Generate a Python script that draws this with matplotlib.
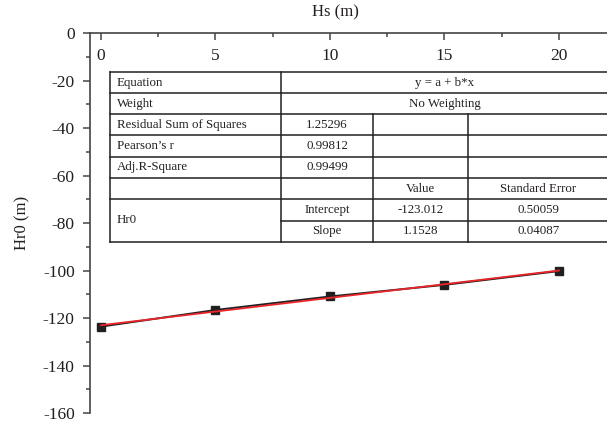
import matplotlib
matplotlib.use('Agg')
import matplotlib.pyplot as plt
from matplotlib.lines import Line2D
from matplotlib.ticker import MultipleLocator
import numpy as np

plt.rcParams['font.family'] = ['Liberation Serif', 'DejaVu Serif']
plt.rcParams['axes.unicode_minus'] = False

# Data
hs = [0, 5, 10, 15, 20]
hr0 = [-123.6, -116.6, -110.9, -106.0, -100.2]

# Linear fit results (shown in the table)
intercept = -123.012
slope = 1.1528
intercept_err = 0.50059
slope_err = 0.04087
rss = 1.25296
pearson_r = 0.99812
adj_r2 = 0.99499

W, H = 607, 424
fig = plt.figure(figsize=(W / 100, H / 100), dpi=100)

def fx(px):
    return px / W

def fy(py):
    return 1 - py / H

ax = fig.add_axes([fx(90), fy(413), fx(607) - fx(90), fy(33.3) - fy(413)])
ax.set_xlim(-0.48, 22.1)
ax.set_ylim(-160, 0)

# data and fit line
xf = np.array([0, 20])
ax.plot(hs, hr0, color='#231f20', lw=1.4, marker='s', ms=6, mfc='#231f20', mec='#231f20', zorder=3)
ax.plot(xf, intercept + slope * xf, color='#e8262a', lw=1.3, zorder=4)

for s in ['right', 'bottom']:
    ax.spines[s].set_visible(False)
for s in ['left', 'top']:
    ax.spines[s].set_color('#444444')
    ax.spines[s].set_linewidth(1.2)

ax.xaxis.tick_top()
ax.xaxis.set_major_locator(MultipleLocator(5))
ax.xaxis.set_minor_locator(MultipleLocator(2.5))
ax.yaxis.set_major_locator(MultipleLocator(20))
ax.yaxis.set_minor_locator(MultipleLocator(10))
ax.tick_params(axis='x', which='major', direction='in', length=5, width=1.1,
               pad=-22, labelsize=12.5, colors='#444444', labelcolor='#231f20')
ax.tick_params(axis='x', which='minor', direction='in', length=3, width=1.1, colors='#444444')
ax.tick_params(axis='y', which='major', direction='out', length=5, width=1.1,
               pad=6, labelsize=12.5, colors='#444444', labelcolor='#231f20')
ax.tick_params(axis='y', which='minor', direction='out', length=3, width=1.1, colors='#444444')

fig.text(fx(335), fy(12), 'Hs (m)', ha='center', va='center', fontsize=12, color='#231f20')
fig.text(fx(22), fy(223), 'Hr0 (m)', ha='center', va='center', rotation=90, fontsize=12, color='#231f20')

# Table
cols = [110, 280.7, 373.3, 467.7, 609]
rows = [72, 93.3, 114.3, 135.3, 156.7, 177.7, 199.3, 220.7, 241.7]
lc = '#231f20'
lw = 1.1

def hline(y, x0, x1):
    fig.add_artist(Line2D([fx(x0), fx(x1)], [fy(y), fy(y)], color=lc, lw=lw, transform=fig.transFigure))

def vline(x, y0, y1):
    fig.add_artist(Line2D([fx(x), fx(x)], [fy(y0), fy(y1)], color=lc, lw=lw, transform=fig.transFigure))

for i, y in enumerate(rows):
    if i == 7:
        hline(y, cols[1], cols[4])
    else:
        hline(y, cols[0], cols[4])
vline(cols[0], rows[0], rows[-1])
vline(cols[1], rows[0], rows[-1])
vline(cols[2], rows[2], rows[-1])
vline(cols[3], rows[2], rows[-1])

fs = 9.3
tc = '#231f20'

def cell_text(x, y, s, ha='center'):
    fig.text(fx(x), fy(y), s, ha=ha, va='center', fontsize=fs, color=tc)

def mid(a, b):
    return (a + b) / 2

left_labels = ['Equation', 'Weight', 'Residual Sum of Squares', "Pearson\u2019s r", 'Adj.R-Square']
for i, lab in enumerate(left_labels):
    cell_text(cols[0] + 7, mid(rows[i], rows[i + 1]), lab, ha='left')

cell_text(mid(cols[1], cols[4]), mid(rows[0], rows[1]), 'y = a + b*x')
cell_text(mid(cols[1], cols[4]), mid(rows[1], rows[2]), 'No Weighting')
cell_text(mid(cols[1], cols[2]), mid(rows[2], rows[3]), f'{rss:.5f}')
cell_text(mid(cols[1], cols[2]), mid(rows[3], rows[4]), f'{pearson_r:.5f}')
cell_text(mid(cols[1], cols[2]), mid(rows[4], rows[5]), f'{adj_r2:.5f}')
cell_text(mid(cols[2], cols[3]), mid(rows[5], rows[6]), 'Value')
cell_text(mid(cols[3], cols[4]), mid(rows[5], rows[6]), 'Standard Error')
cell_text(cols[0] + 7, mid(rows[6], rows[8]), 'Hr0', ha='left')
cell_text(mid(cols[1], cols[2]), mid(rows[6], rows[7]), 'Intercept')
cell_text(mid(cols[1], cols[2]), mid(rows[7], rows[8]), 'Slope')
cell_text(mid(cols[2], cols[3]), mid(rows[6], rows[7]), f'{intercept:.3f}')
cell_text(mid(cols[2], cols[3]), mid(rows[7], rows[8]), f'{slope}')
cell_text(mid(cols[3], cols[4]), mid(rows[6], rows[7]), f'{intercept_err:.5f}')
cell_text(mid(cols[3], cols[4]), mid(rows[7], rows[8]), f'{slope_err:.5f}')

fig.savefig('out.png', dpi=100)
